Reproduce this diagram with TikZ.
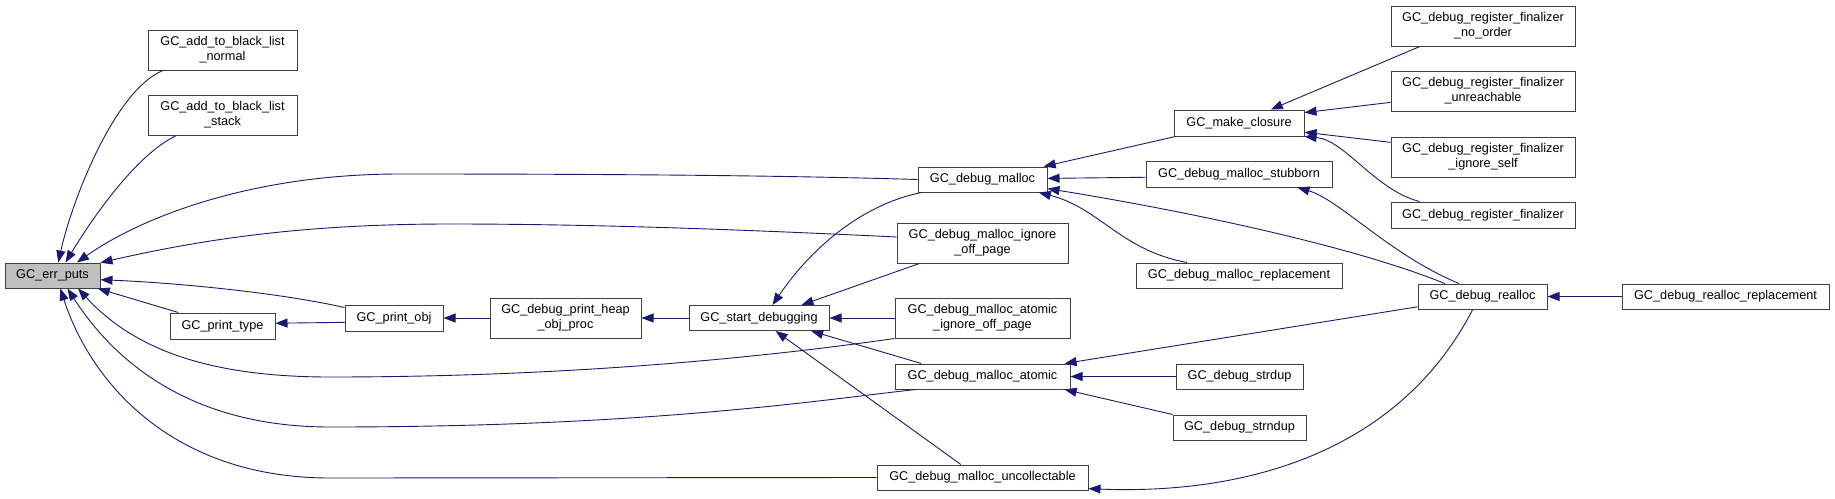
\documentclass[tikz,border=0pt]{standalone}
\usepackage{fontspec}
\setmainfont{Liberation Sans}
\usepackage{tikz}
\usetikzlibrary{arrows.meta}
\definecolor{edgeblue}{HTML}{191970}
\definecolor{boxgray}{HTML}{BFBFBF}
\definecolor{rimgray}{HTML}{404040}

\begin{document}
\begin{tikzpicture}[
        x=1pt, y=-1pt,
        func/.style = {draw=rimgray, line width=1pt, fill=white, inner sep=0pt, align=center, font=\fontsize{12.7}{15}\selectfont},
        focus/.style = {func, fill=boxgray},
        call/.style = {draw=edgeblue, line width=0.9pt, {Triangle[length=12pt, width=9pt]}-},
    ]
    \useasboundingbox (0,0) rectangle (1835,498);

    \node[focus, minimum width=95pt, minimum height=25pt] (errp) at (52.5,275.5) {GC\_err\_puts};
    \node[func, minimum width=149pt, minimum height=40pt] (blnorm) at (222.5,50) {GC\_add\_to\_black\_list\\\_normal};
    \node[func, minimum width=149pt, minimum height=40pt] (blstack) at (222.5,115) {GC\_add\_to\_black\_list\\\_stack};
    \node[func, minimum width=105pt, minimum height=26pt] (ptype) at (222.5,326) {GC\_print\_type};
    \node[func, minimum width=98pt, minimum height=26pt] (pobj) at (394,318) {GC\_print\_obj};
    \node[func, minimum width=151pt, minimum height=40pt] (heap) at (565.5,318) {GC\_debug\_print\_heap\\\_obj\_proc};
    \node[func, minimum width=140pt, minimum height=25pt] (start) at (759,318) {GC\_start\_debugging};
    \node[func, minimum width=129pt, minimum height=25pt] (dmal) at (982.5,179.5) {GC\_debug\_malloc};
    \node[func, minimum width=171pt, minimum height=40pt] (dign) at (982.5,243) {GC\_debug\_malloc\_ignore\\\_off\_page};
    \node[func, minimum width=175pt, minimum height=40pt] (datig) at (982.5,318) {GC\_debug\_malloc\_atomic\\\_ignore\_off\_page};
    \node[func, minimum width=175pt, minimum height=25pt] (datom) at (982.5,376.5) {GC\_debug\_malloc\_atomic};
    \node[func, minimum width=211pt, minimum height=25pt] (dunc) at (982.5,477.5) {GC\_debug\_malloc\_uncollectable};
    \node[func, minimum width=130pt, minimum height=26pt] (mkcl) at (1239,123) {GC\_make\_closure};
    \node[func, minimum width=186pt, minimum height=26pt] (dstub) at (1239,174) {GC\_debug\_malloc\_stubborn};
    \node[func, minimum width=206pt, minimum height=25pt] (drepl) at (1239,275.5) {GC\_debug\_malloc\_replacement};
    \node[func, minimum width=127pt, minimum height=25pt] (sdup) at (1239.5,376.5) {GC\_debug\_strdup};
    \node[func, minimum width=133pt, minimum height=25pt] (sndup) at (1239.5,427.5) {GC\_debug\_strndup};
    \node[func, minimum width=129pt, minimum height=25pt] (drea) at (1482.5,296.5) {GC\_debug\_realloc};
    \node[func, minimum width=184pt, minimum height=40pt] (rfno) at (1483,26) {GC\_debug\_register\_finalizer\\\_no\_order};
    \node[func, minimum width=184pt, minimum height=40pt] (rfun) at (1483,91) {GC\_debug\_register\_finalizer\\\_unreachable};
    \node[func, minimum width=184pt, minimum height=40pt] (rfig) at (1483,157) {GC\_debug\_register\_finalizer\\\_ignore\_self};
    \node[func, minimum width=184pt, minimum height=26pt] (rf) at (1483,215) {GC\_debug\_register\_finalizer};
    \node[func, minimum width=207pt, minimum height=25pt] (drrep) at (1725.5,296.5) {GC\_debug\_realloc\_replacement};

    \draw[call] (errp.66) .. controls (72,200) and (115,90) .. (blnorm.199);
    \draw[call] (errp.45) .. controls (90,222) and (135,155) .. (blstack.204);
    \draw[call] (errp.28) .. controls (140,218) and (250,174) .. (400,174) .. controls (650,174) and (800,176) .. (dmal.west);
    \draw[call] (errp.15) .. controls (200,240) and (300,224) .. (450,224) .. controls (600,224) and (750,230) .. (dign.176);
    \draw[call] (errp.-5) .. controls (180,283) and (280,293) .. (pobj.168);
    \draw[call] (errp.-16) -- (ptype.163);
    \draw[call] (errp.-27) .. controls (130,345) and (200,377) .. (330,377) .. controls (600,377) and (800,352) .. (datig.south west);
    \draw[call] (errp.-41) .. controls (120,370) and (200,427) .. (330,427) .. controls (650,427) and (820,400) .. (datom.191);
    \draw[call] (errp.-59) .. controls (90,380) and (170,478) .. (330,478) -- (dunc.west);
    \draw[call] (ptype.3) -- (pobj.185);
    \draw[call] (pobj.east) -- (heap.west);
    \draw[call] (heap.east) -- (start.west);
    \draw[call] (start.44) .. controls (810,250) and (860,205) .. (dmal.192);
    \draw[call] (start.17) -- (dign.198);
    \draw[call] (start.east) -- (datig.west);
    \draw[call] (start.-14) -- (datom.168);
    \draw[call] (start.-38) -- (dunc.149);
    \draw[call] (dmal.12) -- (mkcl.192);
    \draw[call] (dmal.1) -- (dstub.182);
    \draw[call] (dmal.-8) .. controls (1180,210) and (1350,245) .. (drea.161);
    \draw[call] (dmal.-13) .. controls (1100,208) and (1120,250) .. (drepl.166);
    \draw[call] (mkcl.23) -- (rfno.198);
    \draw[call] (mkcl.9) -- (rfun.187);
    \draw[call] (mkcl.-8) -- (rfig.171);
    \draw[call] (mkcl.south east) .. controls (1345,140) and (1375,190) .. (rf.168);
    \draw[call] (dstub.-13) .. controls (1340,200) and (1390,255) .. (drea.151);
    \draw[call] (datom.9) -- (drea.189);
    \draw[call] (datom.east) -- (sdup.west);
    \draw[call] (datom.-9) -- (sndup.169);
    \draw[call] (dunc.-6) .. controls (1250,495) and (1400,450) .. (drea.233);
    \draw[call] (drea.east) -- (drrep.west);
\end{tikzpicture}
\end{document}
